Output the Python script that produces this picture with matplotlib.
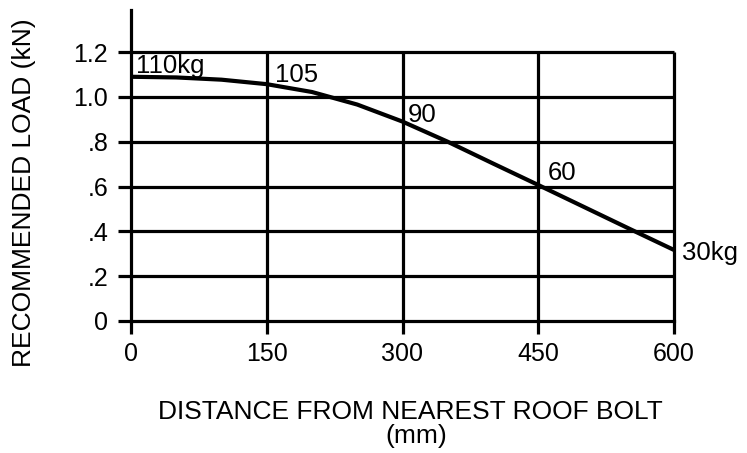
import matplotlib
matplotlib.use("Agg")
import matplotlib.pyplot as plt

# Data
distance_mm = [0, 50, 100, 150, 200, 250, 300, 350, 400, 450, 500, 550, 600]
load_kN = [1.09, 1.087, 1.077, 1.057, 1.022, 0.966, 0.89, 0.80, 0.703, 0.607, 0.51, 0.413, 0.317]

x_ticks = [0, 150, 300, 450, 600]
y_ticks = [0, 0.2, 0.4, 0.6, 0.8, 1.0, 1.2]
y_tick_labels = ["0", ".2", ".4", ".6", ".8", "1.0", "1.2"]

mass_labels = ["110kg", "105", "90", "60", "30kg"]
mass_label_x = [5.5, 159, 306, 460, 609]
mass_label_y = [1.107, 1.067, 0.888, 0.629, 0.272]

plt.rcParams['font.family'] = ['Liberation Sans', 'DejaVu Sans']

W, H = 747, 453
fig = plt.figure(figsize=(W / 100, H / 100), dpi=100)
ax = fig.add_axes([131 / W, 1 - 321 / H, (674 - 131) / W, (321 - 10) / H])

ax.set_xlim(0, 600)
ax.set_ylim(0, 1.388)

lw_grid = 2.3
# horizontal grid
for yv in y_ticks[1:]:
    ax.plot([0, 600], [yv, yv], color='black', lw=lw_grid, clip_on=False,
            solid_capstyle='butt', zorder=2)
# vertical grid
for xv in x_ticks[1:]:
    ax.plot([xv, xv], [0, 1.2], color='black', lw=lw_grid, clip_on=False,
            solid_capstyle='butt', zorder=2)

ax.plot(distance_mm, load_kN, color='black', lw=3.0, zorder=3,
        solid_capstyle='butt', solid_joinstyle='round', clip_on=False)

for s in ['top', 'right']:
    ax.spines[s].set_visible(False)
ax.spines['left'].set_linewidth(lw_grid)
ax.spines['bottom'].set_linewidth(lw_grid)
ax.spines['bottom'].set_bounds(0, 600)

ax.set_xticks(x_ticks)
ax.set_xticklabels([str(v) for v in x_ticks])
ax.set_yticks(y_ticks)
ax.set_yticklabels(y_tick_labels)
ax.tick_params(axis='both', direction='out', length=9.4, width=lw_grid,
               labelsize=18, colors='black')
ax.tick_params(axis='x', pad=6)
ax.tick_params(axis='y', pad=7)

for t, xv, yv in zip(mass_labels, mass_label_x, mass_label_y):
    ax.text(xv, yv, t, ha='left', va='baseline', fontsize=18.5, clip_on=False, zorder=4)

fig.text(158 / W, (H - 419) / H, "DISTANCE FROM NEAREST ROOF BOLT",
         ha='left', va='baseline', fontsize=19)
fig.text(385 / W, (H - 443) / H, "(mm)", ha='left', va='baseline', fontsize=19)
fig.text(24 / W, 1 - 193 / H, "RECOMMENDED LOAD (kN)", rotation=90,
         ha='center', va='center', fontsize=19)

fig.savefig("out.png", dpi=100)
